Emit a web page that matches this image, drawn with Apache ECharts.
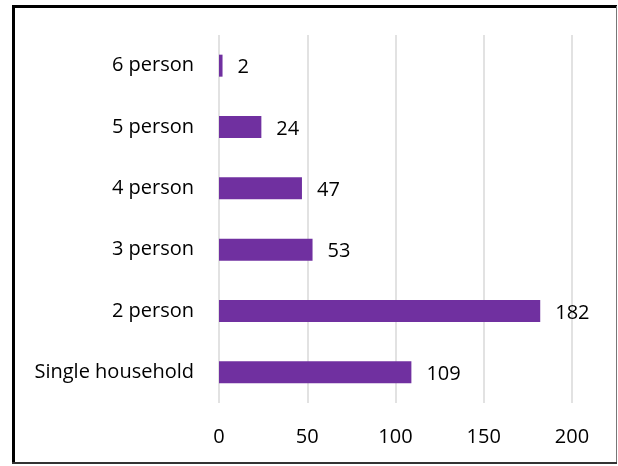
<!DOCTYPE html>
<html><head><meta charset="utf-8">
<script src="https://cdn.jsdelivr.net/npm/echarts@6/dist/echarts.min.js"></script>
<style>html,body{margin:0;padding:0;background:#fff}#c{width:618px;height:466px}</style>
</head><body><div id="c"></div>
<script>
const categories = ['Single household', '2 person', '3 person', '4 person', '5 person', '6 person'];
const values = [109, 182, 53, 47, 24, 2];
const xTicks = [0, 50, 100, 150, 200];

const chart = echarts.init(document.getElementById('c'), null, {renderer: 'canvas'});
const font = '"Open Sans", sans-serif';
chart.setOption({
  animation: false,
  backgroundColor: '#fff',
  grid: {left: 219, top: 35, width: 353, height: 368, containLabel: false},
  xAxis: {
    type: 'value', min: xTicks[0], max: xTicks[xTicks.length - 1], interval: 50,
    axisLine: {show: false}, axisTick: {show: false},
    splitLine: {lineStyle: {color: '#d9d9d9', width: 1.5}},
    axisLabel: {color: '#000', fontSize: 20, fontFamily: font, margin: 24}
  },
  yAxis: {
    type: 'category', data: categories,
    axisLine: {show: false}, axisTick: {show: false},
    axisLabel: {color: '#000', fontSize: 20, fontFamily: font, margin: 25, padding: [4, 0, 0, 0]}
  },
  series: [{
    type: 'bar', data: values, barWidth: 22,
    itemStyle: {color: '#7030A0'},
    label: {show: true, position: 'right', distance: 15, offset: [0, 2], color: '#000', fontSize: 20, fontFamily: font}
  }],
  graphic: [
    {type: 'line', shape: {x1: 13.5, y1: 6, x2: 13.5, y2: 464}, style: {stroke: '#000', lineWidth: 3}},
    {type: 'line', shape: {x1: 12, y1: 6.5, x2: 617, y2: 6.5}, style: {stroke: '#000', lineWidth: 3}},
    {type: 'line', shape: {x1: 616.5, y1: 6, x2: 616.5, y2: 464}, style: {stroke: '#777', lineWidth: 1}},
    {type: 'line', shape: {x1: 12, y1: 463, x2: 617, y2: 463}, style: {stroke: '#333', lineWidth: 2}}
  ]
});
</script></body></html>
